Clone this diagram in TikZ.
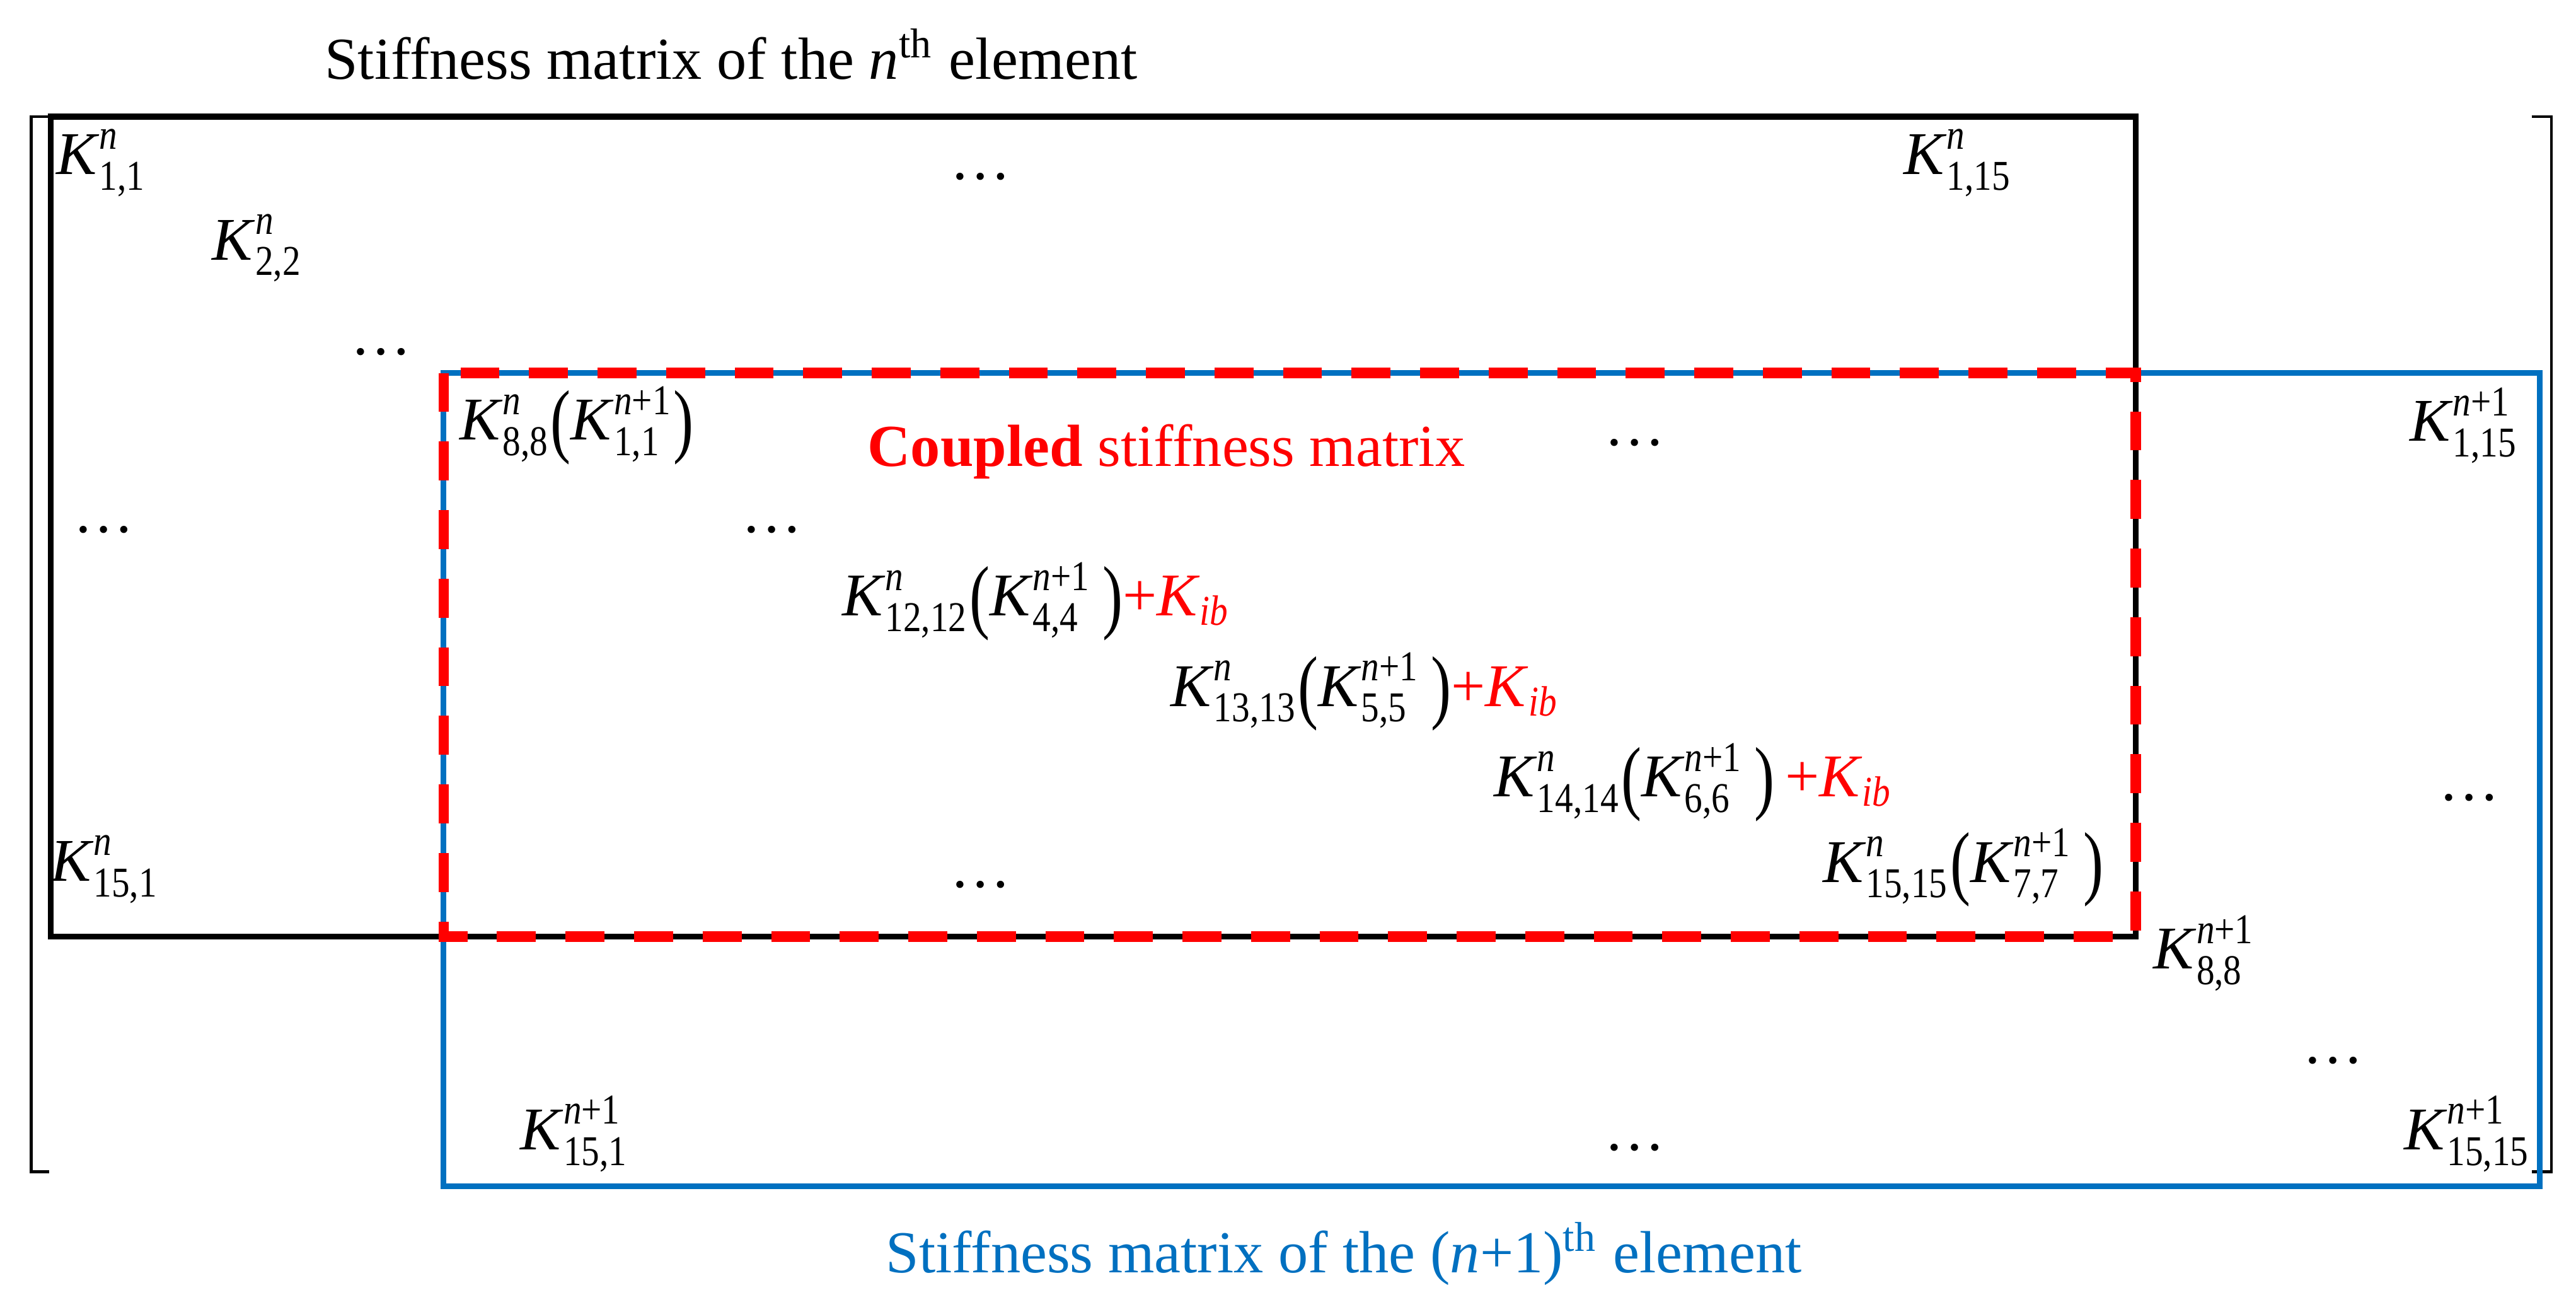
\documentclass[tikz,border=0pt]{standalone}
\usepackage{amsmath}
\usepackage{graphicx}
\usepackage{fontspec}
\setmainfont{Liberation Serif}
\definecolor{cblue}{HTML}{0070C0}
\definecolor{cred}{HTML}{FF0000}
\newcommand\sq[1]{\text{\scalebox{0.85}[1]{#1}}}
\newcommand\iK{\text{\textit{K}}}
\newcommand\Kn[1]{\iK^{\sq{\textit{n}}}_{\sq{#1}}}
\newcommand\Kp[1]{\iK^{\sq{\textit{n}+1}}_{\sq{#1}}}
\newcommand\lp{\text{\raisebox{-0.12em}{\scalebox{1}[1.35]{(}}}}
\newcommand\rp{\text{\raisebox{-0.12em}{\scalebox{1}[1.35]{)}}}}
\newcommand\Kib{\text{\color{cred}+\textit{K}}_{\sq{\color{cred}\textit{ib}}}}
\begin{document}
\begin{tikzpicture}[x=0.01cm,y=-0.01cm,
  ent/.style={inner sep=0pt, font=\fontsize{10.5}{12}\selectfont},
  dts/.style={inner sep=0pt, anchor=base, font=\fontsize{10.5}{12}\selectfont},
  lbl/.style={inner sep=0pt, font=\fontsize{10.3}{12}\selectfont},
  brk/.style={line width=0.5pt},
  blackbox/.style={line width=1.0pt},
  bluebox/.style={cblue, line width=1.0pt},
  redbox/.style={cred, line width=1.8pt, dash pattern=on 0.237cm off 0.18cm}]
\useasboundingbox (0,0) rectangle (1568,795);
% brackets
\draw[brk] (30,71) -- (19,71) -- (19,713) -- (30,713);
\draw[brk] (1541,71) -- (1553,71) -- (1553,713) -- (1541,713);
% boxes
\draw[blackbox] (31,71) rectangle (1300,570);
\draw[bluebox] (270,227) rectangle (1546,722);
\draw[redbox] (270,227) rectangle (1300,570);
% labels
\node[lbl] (title) at (445,33) {Stiffness matrix of the \textit{n}\textsuperscript{th} element};
\node[lbl, text=cblue] (blabel) at (818,763) {Stiffness matrix of the (\textit{n}+1)\textsuperscript{th} element};
\node[lbl, text=cred] (coupled) at (710,275) {\textbf{Coupled} stiffness matrix};
% entries
\node[ent] (k11) at (62,99) {$\Kn{1,1}$};
\node[ent] (k22) at (157,151) {$\Kn{2,2}$};
\node[ent] (k115) at (1192,99) {$\Kn{1,15}$};
\node[ent] (k88) at (351,259) {$\Kn{8,8}\lp\Kp{1,1}\rp$};
\node[ent] (p115) at (1500,259) {$\Kp{1,15}$};
\node[ent] (k1212) at (631,366) {$\Kn{12,12}\lp\Kp{4,4}\,\rp\Kib$};
\node[ent] (k1313) at (831,421) {$\Kn{13,13}\lp\Kp{5,5}\,\rp\Kib$};
\node[ent] (k1414) at (1031,476) {$\Kn{14,14}\lp\Kp{6,6}\,\rp\,\Kib$};
\node[ent] (k151) at (64,529) {$\Kn{15,1}$};
\node[ent] (k1515) at (1195,528) {$\Kn{15,15}\lp\Kp{7,7}\,\rp$};
\node[ent] (p88) at (1342,580) {$\Kp{8,8}$};
\node[ent] (p151) at (350,690) {$\Kp{15,1}$};
\node[ent] (p1515) at (1502,690) {$\Kp{15,15}$};
% dots
\node[dts] (d1) at (232,216) {\ldots};
\node[dts] (d2) at (597,109) {\ldots};
\node[dts] (d3) at (995,271) {\ldots};
\node[dts] (d4) at (63,324) {\ldots};
\node[dts] (d5) at (470,324) {\ldots};
\node[dts] (d6) at (1503,487) {\ldots};
\node[dts] (d7) at (597,540) {\ldots};
\node[dts] (d8) at (1420,647) {\ldots};
\node[dts] (d9) at (995,700) {\ldots};
\end{tikzpicture}
\end{document}
